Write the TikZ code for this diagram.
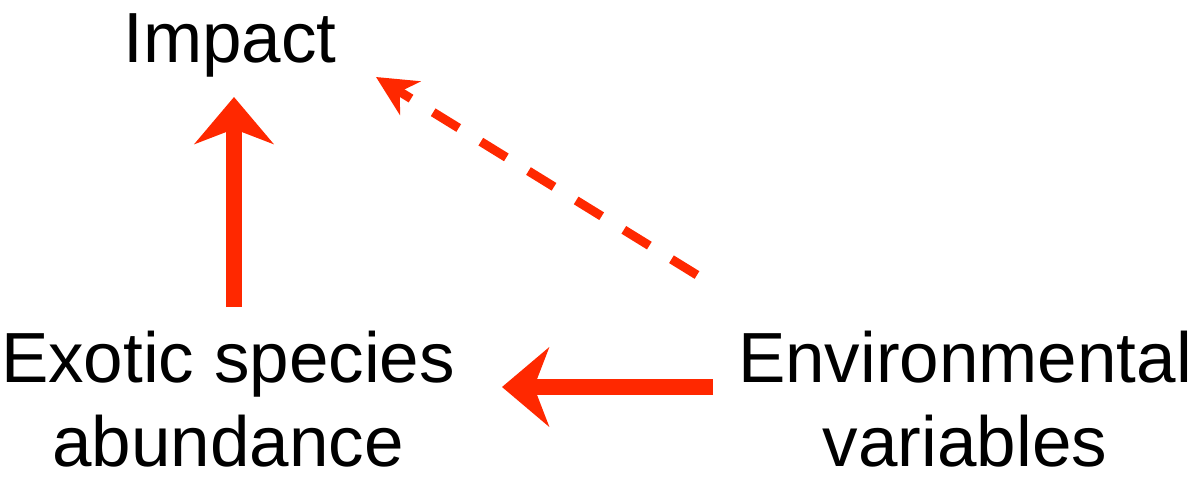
\documentclass[tikz,border=0pt]{standalone}
\usepackage{fontspec}
\setmainfont{Liberation Sans}
\usetikzlibrary{arrows.meta}
\definecolor{arr}{RGB}{255,40,0}
\begin{document}
\begin{tikzpicture}[x=1pt,y=-1pt,
  lbl/.style={font=\fontsize{71}{84}\selectfont, inner sep=0pt, align=center},
  bigarrow/.style={draw=arr, line width=16pt, -{Stealth[length=47pt,width=79pt,inset=15pt]}},
  dasharrow/.style={draw=arr, line width=9pt, dash pattern=on 30pt off 26pt, -{Stealth[length=40pt,width=39pt,inset=12pt]}}]
\useasboundingbox (0,0) rectangle (1194,477);
\node[lbl, anchor=base] (impact) at (230,62) {Impact};
\node[lbl] (exotic) at (228,399) {Exotic species\\abundance};
\node[lbl] (env) at (965,399) {Environmental\\variables};
\draw[bigarrow] ([shift={(6,-92)}]exotic.center) -- ([shift={(4,35)}]impact.base);
\draw[bigarrow] ([shift={(-252,-12)}]env.center) -- ([shift={(274,-12)}]exotic.center);
\draw[dasharrow] ([shift={(-268,-124)}]env.center) -- ([shift={(146,15)}]impact.base);
\end{tikzpicture}
\end{document}
